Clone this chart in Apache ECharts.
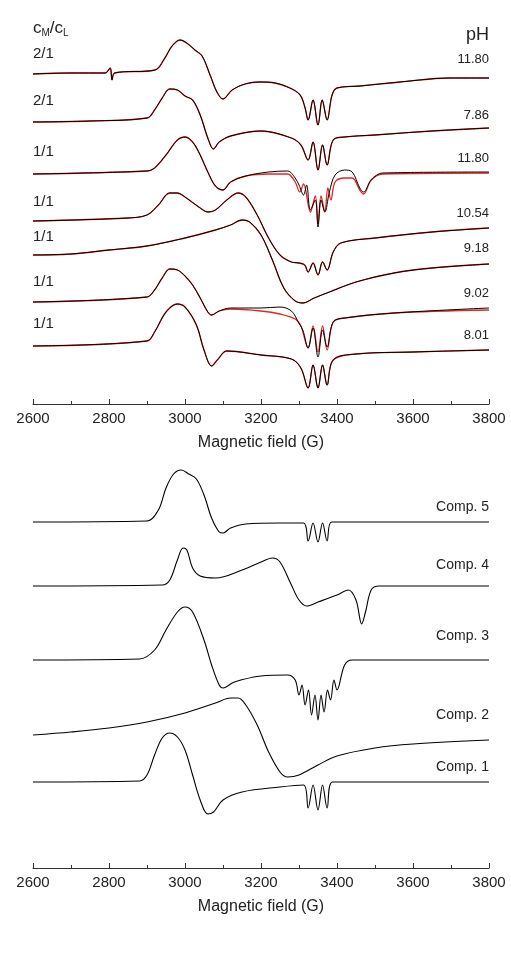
<!DOCTYPE html>
<html>
<head>
<meta charset="utf-8">
<script src="https://cdn.jsdelivr.net/npm/echarts@6/dist/echarts.min.js"></script>
<style>
  html, body { margin: 0; padding: 0; background: #fff; }
  #main { width: 511px; height: 960px; }
</style>
</head>
<body>
<div id="main"></div>
<script>
// top panel: measured spectra (black) and simulations (red), [field G, signal]
var ratios = ['2/1', '2/1', '1/1', '1/1', '1/1', '1/1', '1/1'];
var phs = ['11.80', '7.86', '11.80', '10.54', '9.18', '9.02', '8.01'];
var offsets = [330, 282, 230, 183, 149, 102, 58];

var exp1 = [[2600,0],[2700,1],[2790,1],[2803,6],[2808,-6],[2815,1],[2921,4],[2947,16],[2966,28],[2987,34],[3008,30],[3026,24],[3045,18],[3066,-1],[3084,-18],[3100,-25],[3124,-16],[3158,-10],[3197,-8],[3237,-9],[3276,-14],[3303,-21],[3316,-34],[3324,-46],[3337,-26],[3350,-51],[3361,-26],[3374,-46],[3387,-21],[3400,-14],[3461,-12],[3566,-8],[3697,-4],[3800,-4]];
var exp2 = [[2600,0],[2750,1],[2900,4],[2920,12],[2940,24],[2960,33],[2980,32],[3000,26],[3020,22],[3040,7],[3060,-16],[3075,-27],[3090,-20],[3120,-14],[3200,-9],[3280,-16],[3305,-23],[3324,-38],[3337,-20],[3350,-48],[3362,-23],[3374,-43],[3390,-18],[3420,-15],[3500,-13],[3650,-9],[3800,-6]];
var exp3 = [[2600,0],[2900,3],[2920,6],[2950,19],[2980,34],[3000,37],[3020,32],[3040,19],[3060,2],[3080,-12],[3100,-16],[3120,-8],[3160,-2],[3220,2],[3270,3],[3290,-4],[3300,-11],[3312,-21],[3320,-11],[3330,-36],[3343,-26],[3350,-53],[3358,-26],[3368,-38],[3380,-18],[3395,-1],[3420,4],[3440,2],[3460,-14],[3470,-18],[3490,-6],[3520,1],[3800,2]];
var fit3 = [[2600,0],[2900,3],[2920,6],[2950,19],[2980,34],[3000,37],[3020,32],[3040,19],[3060,2],[3080,-12],[3100,-16],[3120,-8],[3160,-2],[3220,0],[3270,0],[3290,-8],[3302,-18],[3312,-10],[3330,-38],[3343,-22],[3350,-50],[3358,-22],[3368,-38],[3376,-14],[3384,-26],[3395,-8],[3420,-4],[3440,-4],[3460,-16],[3470,-20],[3490,-6],[3520,0],[3800,1]];
var exp4 = [[2600,0],[2850,3],[2900,6],[2930,16],[2960,28],[2980,28],[3000,24],[3040,13],[3060,9],[3080,11],[3110,21],[3140,28],[3160,24],[3190,6],[3220,-17],[3250,-34],[3280,-41],[3300,-42],[3315,-44],[3324,-51],[3337,-42],[3350,-54],[3362,-41],[3374,-49],[3390,-31],[3410,-22],[3500,-17],[3650,-11],[3800,-7]];
var exp5 = [[2600,0],[2700,1],[2800,5],[2900,9],[3000,17],[3080,25],[3120,30],[3150,35],[3170,33],[3200,20],[3230,-5],[3260,-33],[3290,-46],[3310,-48],[3340,-43],[3380,-37],[3450,-27],[3550,-18],[3650,-13],[3800,-9]];
var exp6 = [[2600,0],[2900,5],[2920,12],[2940,24],[2960,33],[2980,32],[3000,26],[3020,17],[3040,4],[3060,-10],[3070,-13],[3090,-9],[3120,-6],[3200,-6],[3250,-5],[3280,-9],[3298,-20],[3310,-28],[3324,-46],[3337,-26],[3350,-55],[3362,-28],[3374,-45],[3390,-20],[3420,-16],[3550,-11],[3800,-6]];
var fit6 = [[2600,0],[2900,5],[2920,12],[2940,24],[2960,33],[2980,32],[3000,26],[3020,17],[3040,4],[3060,-10],[3070,-13],[3090,-9],[3120,-7],[3200,-9],[3250,-12],[3290,-17],[3305,-24],[3324,-46],[3337,-24],[3350,-50],[3362,-24],[3374,-48],[3390,-20],[3420,-16],[3550,-11],[3800,-8]];
var exp7 = [[2600,0],[2900,5],[2920,14],[2950,34],[2980,42],[3000,39],[3030,21],[3050,-4],[3070,-20],[3085,-14],[3110,-5],[3200,-9],[3280,-13],[3305,-22],[3324,-42],[3337,-19],[3350,-42],[3362,-19],[3374,-39],[3390,-14],[3450,-8],[3600,-6],[3800,-4]];

var expData = [exp1, exp2, exp3, exp4, exp5, exp6, exp7];
var fitData = [exp1, exp2, fit3, exp4, exp5, fit6, exp7];

// bottom panel: simulated components
var compNames = ['Comp. 5', 'Comp. 4', 'Comp. 3', 'Comp. 2', 'Comp. 1'];
var compOffsets = [346, 282, 208, 133, 86];
var comp5 = [[2600,0],[2900,1],[2930,12],[2950,34],[2970,48],[2990,52],[3010,48],[3030,43],[3050,27],[3070,4],[3090,-10],[3100,-11],[3120,-6],[3160,-2],[3250,-1],[3312,-1],[3324,-19],[3337,-1],[3350,-20],[3362,-1],[3374,-19],[3386,0],[3800,0]];
var comp4 = [[2600,0],[2940,1],[2960,6],[2980,26],[2995,38],[3005,36],[3020,18],[3040,10],[3080,8],[3150,16],[3200,24],[3230,28],[3250,24],[3280,1],[3300,-14],[3320,-20],[3350,-16],[3400,-9],[3430,-4],[3450,-14],[3465,-38],[3475,-26],[3490,-4],[3510,0],[3800,0]];
var comp3 = [[2600,0],[2880,1],[2920,10],[2950,30],[2980,48],[3000,53],[3020,48],[3050,20],[3070,-5],[3090,-25],[3100,-28],[3130,-22],[3200,-16],[3270,-15],[3290,-20],[3300,-35],[3308,-25],[3316,-45],[3325,-30],[3333,-55],[3342,-35],[3350,-60],[3358,-35],[3366,-52],[3375,-30],[3383,-40],[3392,-20],[3400,-30],[3420,-5],[3440,0],[3800,0]];
var comp2 = [[2600,0],[2700,3],[2800,7],[2900,13],[3000,22],[3080,32],[3120,37],[3140,37],[3160,30],[3190,10],[3220,-17],[3250,-37],[3270,-42],[3300,-40],[3350,-30],[3400,-21],[3500,-13],[3600,-9],[3800,-5]];
var comp1 = [[2600,0],[2880,1],[2900,7],[2920,27],[2940,44],[2960,49],[2980,45],[3000,32],[3020,7],[3040,-18],[3060,-32],[3075,-30],[3100,-18],[3150,-10],[3250,-5],[3312,-3],[3324,-26],[3337,-3],[3350,-28],[3362,-3],[3374,-26],[3388,0],[3800,0]];
var compData = [comp5, comp4, comp3, comp2, comp1];

var fieldTicks = { min: 2600, max: 3800, interval: 200 };

function shift(arr, off) {
  return arr.map(function (p) { return [p[0], p[1] + off]; });
}

function fieldAxis(idx) {
  return {
    gridIndex: idx, type: 'value',
    min: fieldTicks.min, max: fieldTicks.max, interval: fieldTicks.interval,
    name: 'Magnetic field (G)', nameLocation: 'middle', nameGap: 31,
    nameTextStyle: { color: '#222', fontSize: 16, fontFamily: 'Liberation Sans' },
    axisLine: { lineStyle: { color: '#333', width: 1 } },
    axisTick: { inside: true, length: 5, lineStyle: { color: '#333' } },
    minorTick: { show: true, splitNumber: 2, length: 3, lineStyle: { color: '#333' } },
    axisLabel: {
      color: '#222', fontSize: 15, fontFamily: 'Liberation Sans', margin: 7,
      formatter: function (v) { return String(v); }
    },
    splitLine: { show: false }
  };
}

var series = [];
for (var i = 0; i < expData.length; i++) {
  series.push({
    type: 'line', xAxisIndex: 0, yAxisIndex: 0, showSymbol: false, smooth: 0.35,
    data: shift(fitData[i], offsets[i]),
    lineStyle: { color: '#e8231f', width: 1.3 }, z: 2, silent: true
  });
  series.push({
    type: 'line', xAxisIndex: 0, yAxisIndex: 0, showSymbol: false, smooth: 0.35,
    data: shift(expData[i], offsets[i]),
    lineStyle: { color: '#000', width: 1 }, z: 3, silent: true
  });
}
for (var j = 0; j < compData.length; j++) {
  series.push({
    type: 'line', xAxisIndex: 1, yAxisIndex: 1, showSymbol: false, smooth: 0.35,
    data: shift(compData[j], compOffsets[j]),
    lineStyle: { color: '#000', width: 1.1 }, silent: true
  });
}

var txt = { fill: '#222', fontFamily: 'Liberation Sans' };
var graphics = [
  { type: 'text', left: 33, top: 20, style: Object.assign({ rich: { s: { fontSize: 10, verticalAlign: 'bottom', padding: [10, 0, 0, 0] } }, text: 'c{s|M}/c{s|L}', fontSize: 17 }, txt) },
  { type: 'text', right: 22, top: 26, style: Object.assign({ text: 'pH', fontSize: 18 }, txt) }
];
var ratioY = [55, 102, 153, 203, 238, 283, 325];
var phY = [61, 117, 160, 215, 250, 295, 337];
for (var k = 0; k < ratios.length; k++) {
  graphics.push({ type: 'text', left: 33, top: ratioY[k] - 9, style: Object.assign({ text: ratios[k], fontSize: 15 }, txt) });
  graphics.push({ type: 'text', right: 22, top: phY[k] - 8, style: Object.assign({ text: phs[k], fontSize: 13, fill: '#333' }, txt) });
}
var compY = [508, 566, 637, 716, 768];
for (var m = 0; m < compNames.length; m++) {
  graphics.push({ type: 'text', right: 22, top: compY[m] - 8, style: Object.assign({ text: compNames[m], fontSize: 14 }, txt) });
}

var option = {
  animation: false,
  backgroundColor: '#fff',
  grid: [
    { left: 33, right: 22, top: 0, bottom: 556 },
    { left: 33, right: 22, top: 450, bottom: 92 }
  ],
  xAxis: [fieldAxis(0), fieldAxis(1)],
  yAxis: [
    { gridIndex: 0, type: 'value', min: 0, max: 404, show: false },
    { gridIndex: 1, type: 'value', min: 0, max: 418, show: false }
  ],
  series: series,
  graphic: graphics
};

var myChart = echarts.init(document.getElementById('main'));
myChart.setOption(option);
</script>
</body>
</html>
